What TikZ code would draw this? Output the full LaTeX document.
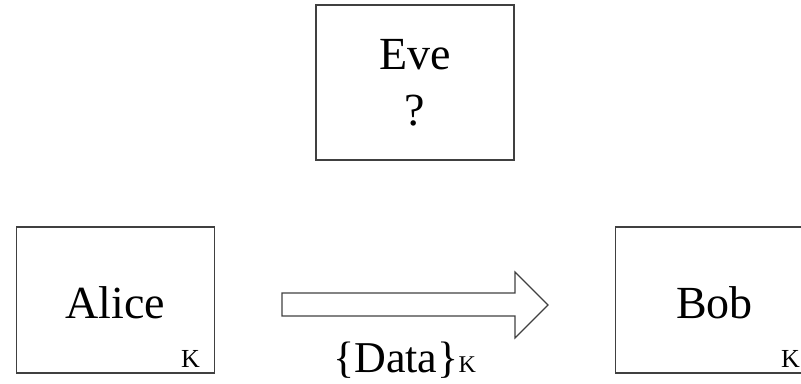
\documentclass[tikz,border=0pt]{standalone}
\usepackage{fontspec}
\setmainfont{Liberation Serif}
\begin{document}
\begin{tikzpicture}[x=0.75pt,y=-0.75pt,
    plainbox/.style={draw=black!75,line width=0.9pt,minimum width=148.5pt,
      minimum height=109.5pt,inner sep=0pt,font=\fontsize{34.5}{42}\selectfont},
    party/.style={plainbox,text height=28.5pt},
    keytag/.style={anchor=base east,inner sep=0pt,font=\fontsize{19.5}{24}\selectfont}]
  \useasboundingbox (0,0) rectangle (801,384);
  \node[party] (alice) at (115.5,300) {Alice};
  \node[party] (bob) at (714.5,300) {Bob};
  \node[plainbox,minimum height=116.25pt,align=center] (eve) at (415,82.5) {Eve\\?};
  \node[keytag] (ka) at ([xshift=-11.25pt,yshift=4.5pt]alice.south east) {K};
  \node[keytag] (kb) at ([xshift=-10.5pt,yshift=4.5pt]bob.south east) {K};
  \draw[black!75,line width=0.9pt]
    (282,293) -- (515,293) -- (515,272) -- (548,305)
    -- (515,338) -- (515,316) -- (282,316) -- cycle;
  \node[anchor=base west,inner sep=0pt] (msg) at (333,372.5)
    {{\fontsize{33}{38}\selectfont\{Data\}}{\fontsize{18}{22}\selectfont K}};
\end{tikzpicture}
\end{document}
